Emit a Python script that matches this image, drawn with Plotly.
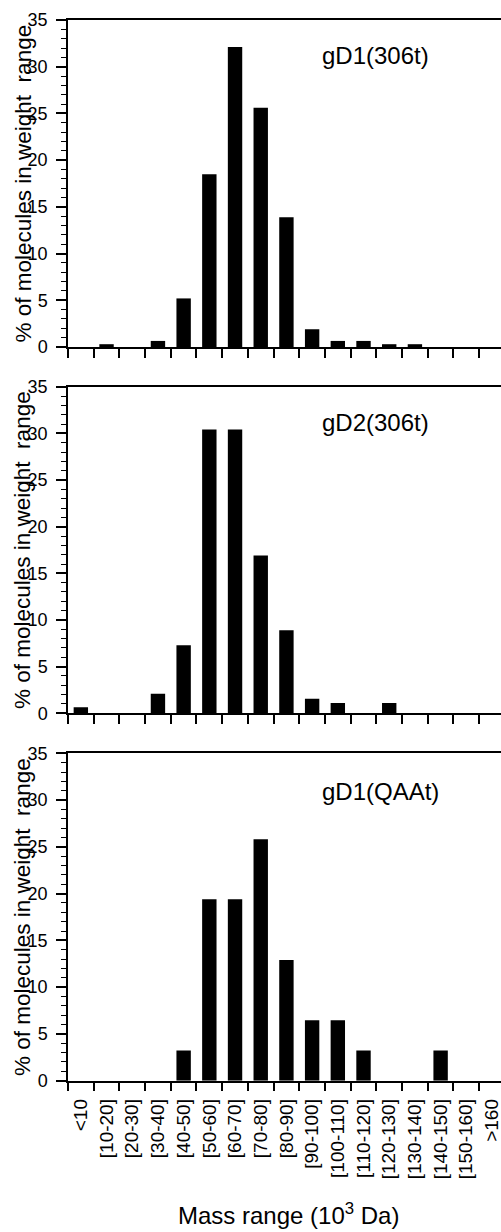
import plotly.graph_objects as go

categories = ["<10", "[10-20]", "[20-30]", "[30-40]", "[40-50]", "[50-60]", "[60-70]",
              "[70-80]", "[80-90]", "[90-100]", "[100-110]", "[110-120]", "[120-130]",
              "[130-140]", "[140-150]", "[150-160]", ">160"]

gd1_306t = [0, 0.3, 0, 0.65, 5.2, 18.5, 32.1, 25.6, 13.9, 1.9, 0.65, 0.65, 0.3, 0.3, 0, 0, 0]
gd2_306t = [0.65, 0, 0, 2.1, 7.3, 30.4, 30.4, 16.9, 8.9, 1.55, 1.1, 0, 1.1, 0, 0, 0, 0]
gd1_qaat = [0, 0, 0, 0, 3.23, 19.4, 19.4, 25.8, 12.9, 6.45, 6.45, 3.23, 0, 0, 3.23, 0, 0]

panel_titles = ["gD1(306t)", "gD2(306t)", "gD1(QAAt)"]
y_title = "% of molecules in weight  range"
x_title = "Mass range (10<sup>3</sup> Da)"
y_ticks = [0, 5, 10, 15, 20, 25, 30, 35]

FONT = "Liberation Sans, Arial, Helvetica, sans-serif"
W, H = 501, 1232
ML, MT, MB = 68, 20, 151
plot_h = H - MT - MB

def frac(py):
    return 1 - (py - MT) / plot_h

domains = [
    [frac(347), frac(20)],
    [frac(713.3), frac(386.7)],
    [frac(1080.7), frac(753.3)],
]

fig = go.Figure()
series = [gd1_306t, gd2_306t, gd1_qaat]
for i, vals in enumerate(series):
    fig.add_trace(go.Bar(
        x=categories, y=vals, width=0.56,
        marker=dict(color="black", line=dict(width=0)),
        xaxis="x" if i == 0 else f"x{i+1}",
        yaxis="y" if i == 0 else f"y{i+1}",
        showlegend=False,
    ))

layout = dict(
    width=W, height=H,
    margin=dict(l=ML, r=0, t=MT, b=MB, pad=0),
    paper_bgcolor="white", plot_bgcolor="white",
    font=dict(family=FONT, color="black"),
    bargap=0.44,
)

for i in range(3):
    sfx = "" if i == 0 else str(i + 1)
    layout[f"xaxis{sfx}"] = dict(
        type="category", categoryorder="array", categoryarray=categories,
        range=[-0.5, 16.35], domain=[0, 1],
        anchor=f"y{sfx}",
        showline=True, linecolor="black", linewidth=1.5, mirror=True,
        ticks="outside", tickson="boundaries", ticklen=9, tickwidth=1.5, tickcolor="black",
        showgrid=False, zeroline=False,
        showticklabels=(i == 2), tickangle=-90,
        tickfont=dict(size=19, family=FONT, color="black"),
        ticklabelstandoff=9, automargin=False,
        fixedrange=True,
    )
    layout[f"yaxis{sfx}"] = dict(
        range=[0, 35], domain=domains[i], anchor=f"x{sfx}",
        tickvals=y_ticks,
        showline=True, linecolor="black", linewidth=1.5,
        ticks="outside", ticklen=10, tickwidth=1.5, tickcolor="black",
        minor=dict(dtick=1, ticks="outside", ticklen=5, tickwidth=1, tickcolor="black"),
        showgrid=False, zeroline=False,
        tickfont=dict(size=18, family=FONT, color="black"),
        ticklabelstandoff=5, automargin=False,
        fixedrange=True,
    )

fig.update_layout(**layout)

title_y = [31.2, 31.2, 30.9]
for i in range(3):
    sfx = "" if i == 0 else str(i + 1)
    fig.add_annotation(
        text=panel_titles[i], xref=f"x{sfx}", yref=f"y{sfx}",
        x=9.3, y=title_y[i], xanchor="left", yanchor="middle",
        showarrow=False, font=dict(size=24, family=FONT, color="black"),
    )
    d = domains[i]
    fig.add_annotation(
        text=y_title, xref="paper", yref="paper",
        x=(23 - ML) / (W - ML), y=(d[0] + d[1]) / 2,
        xanchor="center", yanchor="middle", textangle=-90,
        showarrow=False, font=dict(size=22.5, family=FONT, color="black"),
    )

fig.add_annotation(
    text=x_title, xref="paper", yref="paper",
    x=(288 - ML) / (W - ML), y=frac(1214),
    xanchor="center", yanchor="middle",
    showarrow=False, font=dict(size=24, family=FONT, color="black"),
)

fig.write_html(
    "out.html",
    config={"displayModeBar": False},
    post_script="document.body.style.margin='0';document.body.style.padding='0';",
)
